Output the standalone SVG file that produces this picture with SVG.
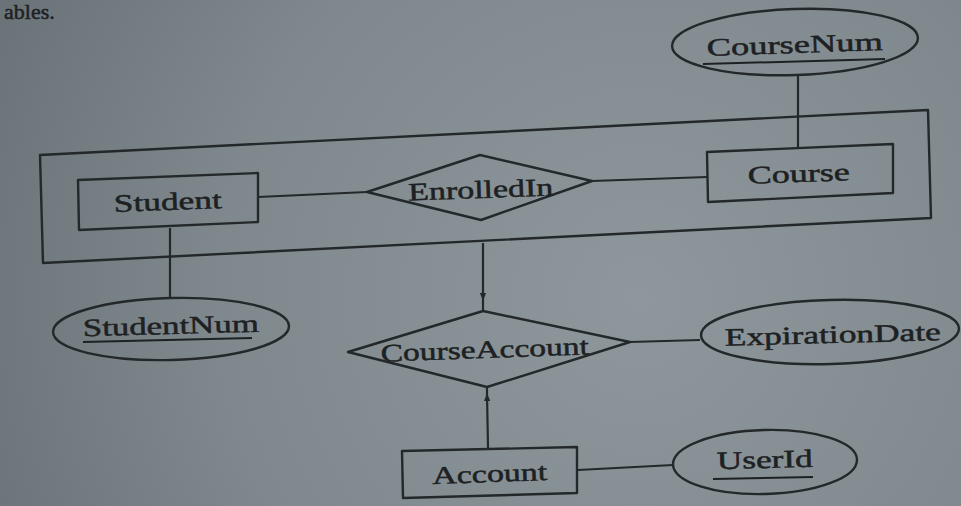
<svg xmlns="http://www.w3.org/2000/svg" width="961" height="506" viewBox="0 0 961 506">
<defs>
<radialGradient id="bg" cx="640" cy="300" r="700" gradientUnits="userSpaceOnUse">
<stop offset="0" stop-color="#8e989c"/>
<stop offset="0.6" stop-color="#7f898d"/>
<stop offset="1" stop-color="#6a7377"/>
</radialGradient>
<marker id="ah" viewBox="0 0 10 10" refX="9" refY="5" markerWidth="8" markerHeight="8" orient="auto" markerUnits="userSpaceOnUse">
<path d="M0,1 L10,5 L0,9 z" fill="#23282a"/>
</marker>
<style>
.sh{fill:none;stroke:#23282a;stroke-width:2.4;stroke-linejoin:round}
.ln{fill:none;stroke:#23282a;stroke-width:2.2}
.tx{font-family:"Liberation Serif","Times New Roman",serif;font-size:25px;fill:#1d2123;stroke:#1d2123;stroke-width:0.5;text-anchor:middle}
.ul{stroke:#1d2123;stroke-width:2}
</style>
</defs>
<rect x="0" y="0" width="961" height="506" fill="url(#bg)"/>
<text x="4" y="19" style="font-family:'Liberation Serif',serif;font-size:22px;fill:#1d2123;stroke:#1d2123;stroke-width:0.5">ables.</text>

<g id="aggregation">
<polygon class="sh" points="40,155 928,110 931,218 43,263"/>
</g>

<g id="connectors">
<line class="ln" x1="258" y1="197" x2="367" y2="192"/>
<line class="ln" x1="592" y1="181" x2="707" y2="177"/>
<line class="ln" x1="798" y1="76" x2="798" y2="147"/>
<line class="ln" x1="170" y1="228" x2="170" y2="298"/>
<line class="ln" x1="483" y1="243" x2="483" y2="300" marker-end="url(#ah)"/>
<line class="ln" x1="483" y1="300" x2="483" y2="311"/>
<line class="ln" x1="488" y1="448" x2="487" y2="394" marker-end="url(#ah)"/>
<line class="ln" x1="487" y1="394" x2="487" y2="387"/>
<line class="ln" x1="630" y1="342" x2="700" y2="340"/>
<line class="ln" x1="578" y1="470" x2="673" y2="465"/>
</g>

<g id="Student">
<polygon class="sh" points="78,180 258,173 258,222 79,230"/>
<text class="tx" x="168" y="210" textLength="108" lengthAdjust="spacingAndGlyphs" transform="rotate(-2 168 210)">Student</text>
</g>

<g id="StudentNum">
<ellipse class="sh" cx="171" cy="329" rx="118" ry="31" transform="rotate(-1.5 171 329)"/>
<text class="tx" x="171" y="334" textLength="176" lengthAdjust="spacingAndGlyphs" transform="rotate(-1.5 171 334)">StudentNum</text>
<line class="ul" x1="83" y1="342" x2="252" y2="338"/>
</g>

<g id="EnrolledIn">
<polygon class="sh" points="367,192 480,155 592,181 481,220"/>
<text class="tx" x="481" y="198" textLength="145" lengthAdjust="spacingAndGlyphs" transform="rotate(-2 481 198)">EnrolledIn</text>
</g>

<g id="Course">
<polygon class="sh" points="707,152 893,144 893,193 708,202"/>
<text class="tx" x="799" y="182" textLength="102" lengthAdjust="spacingAndGlyphs" transform="rotate(-2 799 182)">Course</text>
</g>

<g id="CourseNum">
<ellipse class="sh" cx="795" cy="42" rx="123" ry="33" transform="rotate(-2 795 42)"/>
<text class="tx" x="795" y="53" textLength="176" lengthAdjust="spacingAndGlyphs" transform="rotate(-2 795 53)">CourseNum</text>
<line class="ul" x1="703" y1="64" x2="885" y2="59"/>
</g>

<g id="CourseAccount">
<polygon class="sh" points="348,352 483,311 630,342 487,387"/>
<text class="tx" x="485" y="358" textLength="208" lengthAdjust="spacingAndGlyphs" transform="rotate(-2 485 358)">CourseAccount</text>
</g>

<g id="ExpirationDate">
<ellipse class="sh" cx="830" cy="332" rx="129" ry="32" transform="rotate(-1.5 830 332)"/>
<text class="tx" x="833" y="343" textLength="216" lengthAdjust="spacingAndGlyphs" transform="rotate(-1.5 833 343)">ExpirationDate</text>
</g>

<g id="Account">
<polygon class="sh" points="402,451 577,447 577,493 403,498"/>
<text class="tx" x="490" y="482" textLength="115" lengthAdjust="spacingAndGlyphs" transform="rotate(-2 490 482)">Account</text>
</g>

<g id="UserId">
<ellipse class="sh" cx="765" cy="462" rx="92" ry="32" transform="rotate(-1.5 765 462)"/>
<text class="tx" x="765" y="468" textLength="96" lengthAdjust="spacingAndGlyphs" transform="rotate(-1.5 765 468)">UserId</text>
<line class="ul" x1="713" y1="479" x2="813" y2="477"/>
</g>
</svg>
